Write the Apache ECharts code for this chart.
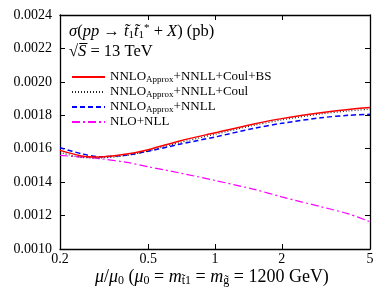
<!DOCTYPE html>
<html><head><meta charset="utf-8">
<script src="https://cdn.jsdelivr.net/npm/echarts@6/dist/echarts.min.js"></script>
<style>html,body{margin:0;padding:0;background:#fff}#c{width:390px;height:293px}</style>
</head><body><div id="c"></div>
<script>
const mu = [0.2, 0.25, 0.3, 0.4, 0.5, 0.7, 1, 1.5, 2, 3, 4, 5];
const coulBS = [0.001590, 0.001557, 0.001550, 0.001568, 0.001594, 0.001648, 0.001695, 0.001748, 0.001780, 0.001815, 0.001835, 0.001846];
const coul   = [0.001578, 0.001548, 0.001545, 0.001560, 0.001587, 0.001638, 0.001686, 0.001740, 0.001772, 0.001808, 0.001826, 0.001836];
const nnll   = [0.001606, 0.001570, 0.001552, 0.001562, 0.001585, 0.001628, 0.001670, 0.001722, 0.001752, 0.001785, 0.001800, 0.001806];
const nlo    = [0.001560, 0.001550, 0.001541, 0.001518, 0.001492, 0.001454, 0.001410, 0.001357, 0.001312, 0.001253, 0.001210, 0.001163];
const xTicks = [0.2, 0.5, 1, 2, 5];
const names = ['NNLOApprox+NNLL+Coul+BS', 'NNLOApprox+NNLL+Coul', 'NNLOApprox+NNLL', 'NLO+NLL'];

const F = 'Liberation Serif';
const pair = arr => mu.map((m, i) => [m, arr[i]]);
const chart = echarts.init(document.getElementById('c'));
const axLine = {show: true, lineStyle: {color: '#000', width: 1.3}};
const tickIn = {show: true, inside: true, length: 5, lineStyle: {color: '#000', width: 1}};
chart.setOption({
  animation: false,
  grid: {left: 60, right: 20, top: 15, bottom: 44},
  xAxis: [{
    type: 'log', logBase: 10, min: 0.2, max: 5, position: 'bottom',
    axisLine: axLine, splitLine: {show: false},
    axisTick: Object.assign({}, tickIn, {customValues: xTicks}),
    axisLabel: {customValues: xTicks, color: '#000', fontFamily: F, fontSize: 14, margin: 3,
      formatter: v => String(+v.toPrecision(3))}
  }, {
    type: 'log', logBase: 10, min: 0.2, max: 5, position: 'top',
    axisLine: axLine, splitLine: {show: false},
    axisTick: Object.assign({}, tickIn, {customValues: xTicks}),
    axisLabel: {show: false}
  }],
  yAxis: [{
    type: 'value', min: 0.0010, max: 0.0024, interval: 0.0002, position: 'left',
    axisLine: axLine, splitLine: {show: false}, axisTick: tickIn,
    axisLabel: {color: '#000', fontFamily: F, fontSize: 14, margin: 8, formatter: v => v.toFixed(4)}
  }, {
    type: 'value', min: 0.0010, max: 0.0024, interval: 0.0002, position: 'right',
    axisLine: axLine, splitLine: {show: false}, axisTick: tickIn, axisLabel: {show: false}
  }],
  legend: {
    show: true, orient: 'vertical', left: 66, top: 65, itemWidth: 33, itemHeight: 10, itemGap: 1,
    data: names, itemStyle: {opacity: 0},
    formatter: n => n.replace('Approx', '{s|Approx}'),
    textStyle: {fontFamily: F, fontSize: 13, color: '#000', lineHeight: 14,
      rich: {s: {fontFamily: F, fontSize: 9, lineHeight: 14, padding: [5, 0, 0, 0]}}}
  },
  graphic: [
    {type: 'text', left: 69, top: 23, style: {
      text: '{i|σ}({i|pp} → {i|t̃}{s|1}{i|t̃}{s|1}{p|*} + {i|X}) (pb)',
      fontFamily: F, fontSize: 16.5, fill: '#000',
      rich: {i: {fontFamily: F, fontStyle: 'italic', fontSize: 16.5}, s: {fontFamily: F, fontSize: 11, padding: [8, 0, 0, 0]},
        p: {fontFamily: F, fontSize: 11, padding: [0, 0, 6, 0]}}
    }},
    {type: 'text', left: 69, top: 43, style: {
      text: '√{i|S̅} = 13 TeV', fontFamily: F, fontSize: 16.5, fill: '#000',
      rich: {i: {fontFamily: F, fontStyle: 'italic', fontSize: 16.5}}
    }},
    {type: 'text', left: 95, top: 268, style: {
      text: '{i|μ}/{i|μ}{s|0} ({i|μ}{s|0} = {i|m}{s|t̃1} = {i|m}{s|g̃} = 1200 GeV)',
      fontFamily: F, fontSize: 18, fill: '#000',
      rich: {i: {fontFamily: F, fontStyle: 'italic', fontSize: 18}, s: {fontFamily: F, fontSize: 12, padding: [8, 0, 0, 0]}}
    }}
  ],
  series: [
    {name: names[0], type: 'line', data: pair(coulBS), smooth: 0.3, symbol: 'none',
      lineStyle: {color: '#ff0000', width: 1.5, type: 'solid'}, itemStyle: {color: '#ff0000'}, z: 5},
    {name: names[1], type: 'line', data: pair(coul), smooth: 0.3, symbol: 'none',
      lineStyle: {color: '#222', width: 1.2, type: [1, 2]}, itemStyle: {color: '#222'}, z: 4},
    {name: names[2], type: 'line', data: pair(nnll), smooth: 0.3, symbol: 'none',
      lineStyle: {color: '#0000ff', width: 1.5, type: [5, 3]}, itemStyle: {color: '#0000ff'}, z: 3},
    {name: names[3], type: 'line', data: pair(nlo), smooth: 0.3, symbol: 'none',
      lineStyle: {color: '#ff00ff', width: 1.2, type: [8, 3, 2, 3]}, itemStyle: {color: '#ff00ff'}, z: 2}
  ]
});
</script></body></html>
